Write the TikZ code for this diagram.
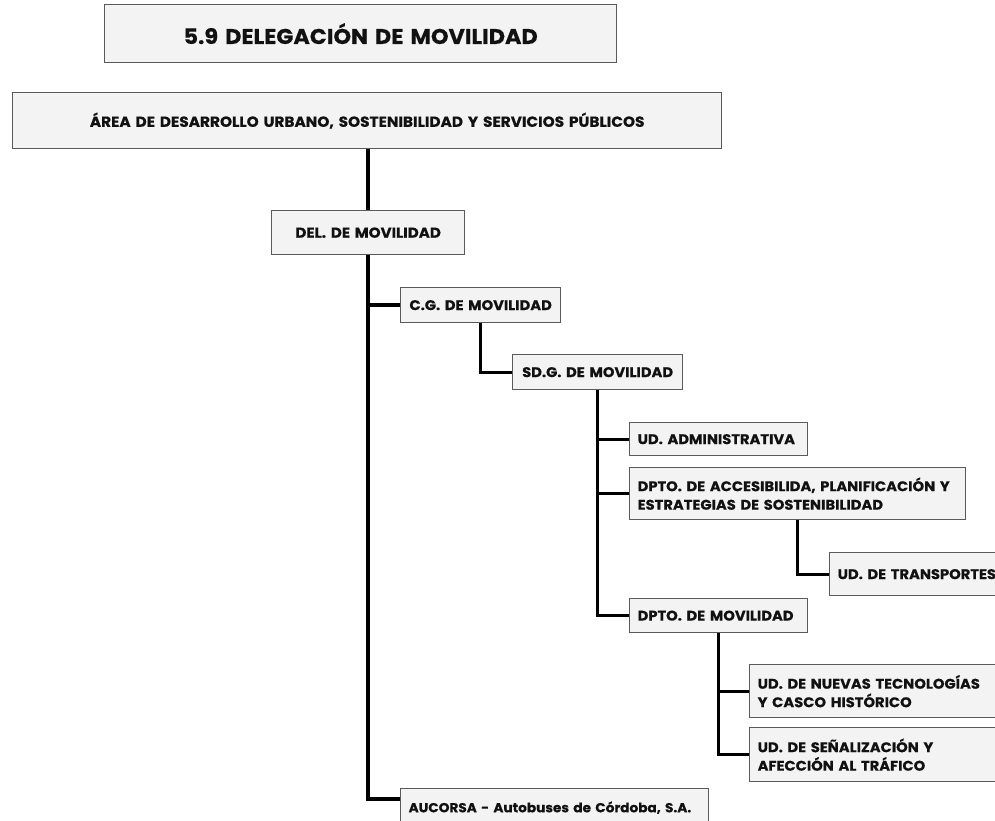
\documentclass[tikz,border=0pt]{standalone}
\usepackage{fontspec}
\setmainfont{Poppins}[FakeStretch=1.05, BoldFeatures={FakeBold=0.5}]
\definecolor{boxfill}{HTML}{F4F3F3}
\definecolor{boxline}{HTML}{5A5A5A}
\definecolor{ink}{HTML}{111111}
\begin{document}
\begin{tikzpicture}[x=1pt,y=-1pt,
  orgbox/.style={draw=boxline, fill=boxfill, line width=1.3pt, anchor=north west,
    inner xsep=8pt, inner ysep=0pt, align=left, text=ink,
    font=\bfseries\fontsize{14}{18.5}\selectfont},
  link/.style={line width=3.6pt, black},
  link2/.style={line width=3.2pt, black}]
\useasboundingbox (0,0) rectangle (995,821);
\clip (0,0) rectangle (995,821);
\fill[white] (0,0) rectangle (995,821);

\node[orgbox, align=center, minimum width=512pt, minimum height=58pt, text width=496pt,
  font=\bfseries\fontsize{21.3}{24}\selectfont] (title) at (104,4) {\mbox{5.9 DELEGACIÓN DE MOVILIDAD}};
\node[orgbox, align=center, minimum width=709pt, minimum height=56pt, text width=693pt,
  font=\bfseries\fontsize{14.6}{17}\selectfont] (area) at (12,92)
  {\mbox{ÁREA DE DESARROLLO URBANO, SOSTENIBILIDAD Y SERVICIOS PÚBLICOS}};
\node[orgbox, align=center, minimum width=193pt, minimum height=44pt, text width=177pt,
  font=\bfseries\fontsize{14.4}{17}\selectfont] (del) at (271,210) {\mbox{DEL. DE MOVILIDAD}};
\node[orgbox, align=center, minimum width=160pt, minimum height=35pt, text width=144pt] (cg) at (400,287) {\mbox{C.G. DE MOVILIDAD}};
\node[orgbox, align=center, minimum width=170pt, minimum height=35pt, text width=154pt] (sdg) at (512,354) {\mbox{SD.G. DE MOVILIDAD}};
\node[orgbox, minimum width=178pt, minimum height=33pt, text width=162pt] (udadm) at (629,422) {\mbox{UD. ADMINISTRATIVA}};
\node[orgbox, minimum width=336pt, minimum height=52pt, text width=320pt] (dacc) at (629,467)
  {\mbox{DPTO. DE ACCESIBILIDA, PLANIFICACIÓN Y}\\\mbox{ESTRATEGIAS DE SOSTENIBILIDAD}};
\node[orgbox, minimum width=200pt, minimum height=43pt, text width=184pt] (udtra) at (829,552) {\mbox{UD. DE TRANSPORTES}};
\node[orgbox, minimum width=178pt, minimum height=34pt, text width=162pt] (dmov) at (629,598) {\mbox{DPTO. DE MOVILIDAD}};
\node[orgbox, minimum width=260pt, minimum height=53pt, text width=244pt] (udnt) at (749,664)
  {\mbox{UD. DE NUEVAS TECNOLOGÍAS}\\\mbox{Y CASCO HISTÓRICO}};
\node[orgbox, minimum width=260pt, minimum height=54pt, text width=244pt] (udsen) at (749,727)
  {\mbox{UD. DE SEÑALIZACIÓN Y}\\\mbox{AFECCIÓN AL TRÁFICO}};
\node[orgbox, minimum width=308pt, minimum height=38pt, text width=292pt,
  font=\bfseries\fontsize{13}{15}\selectfont] (auc) at (400,788)
  {\mbox{AUCORSA - Autobuses de Córdoba, S.A.}};

\draw[link] (del.north |- area.south) -- (del.north);
\draw[link] (del.south) |- ([yshift=-11pt]auc.north west);
\draw[link] (del.south |- cg.west) -- (cg.west);
\draw[link2] (cg.south) |- (sdg.west);
\draw[link2] (sdg.south) |- (dmov.west);
\draw[link2] (sdg.south |- udadm.west) -- (udadm.west);
\draw[link2] (sdg.south |- dacc.west) -- (dacc.west);
\draw[link2] (dacc.south) |- (udtra.west);
\draw[link2] (dmov.south) |- (udsen.west);
\draw[link2] (dmov.south |- udnt.west) -- (udnt.west);
\end{tikzpicture}
\end{document}
